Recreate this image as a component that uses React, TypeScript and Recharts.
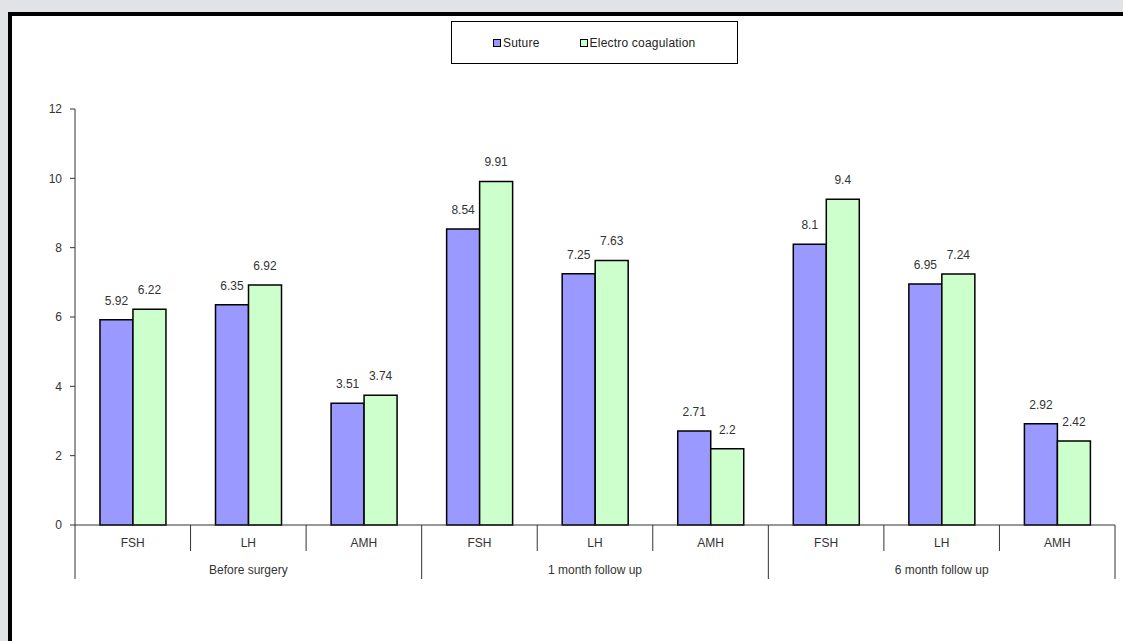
import React from "react";
import { BarChart, Bar, XAxis, YAxis, Legend, LabelList } from "recharts";

const hormones = ["FSH", "LH", "AMH", "FSH", "LH", "AMH", "FSH", "LH", "AMH"];
const groups = ["Before surgery", "1 month follow up", "6 month follow up"];
const suture = [5.92, 6.35, 3.51, 8.54, 7.25, 2.71, 8.1, 6.95, 2.92];
const electro = [6.22, 6.92, 3.74, 9.91, 7.63, 2.2, 9.4, 7.24, 2.42];
const seriesNames = ["Suture", "Electro coagulation"];
const yTicks = [0, 2, 4, 6, 8, 10, 12];

const data = hormones.map((h, i) => ({
  id: i,
  hormone: h,
  suture: suture[i],
  electro: electro[i],
}));

const FONT = "'Liberation Sans', Arial, sans-serif";
const INK = "#333";

function CategoryTick(props: any) {
  const { x, y, payload, index } = props;
  const half = payload?.offset ?? 57.8;
  const left = x - half;
  const isGroupStart = index % 3 === 0;
  const isLast = index === hormones.length - 1;
  return (
    <g>
      <line x1={left} x2={left} y1={y} y2={y + (isGroupStart ? 54 : 26)} stroke={INK} strokeWidth={1} />
      {isLast && <line x1={x + half} x2={x + half} y1={y} y2={y + 54} stroke={INK} strokeWidth={1} />}
      <text x={x} y={y + 22} textAnchor="middle" fontSize={12} fill={INK} fontFamily={FONT}>
        {hormones[index]}
      </text>
      {index % 3 === 1 && (
        <text x={x} y={y + 49} textAnchor="middle" fontSize={12} fill={INK} fontFamily={FONT}>
          {groups[Math.floor(index / 3)]}
        </text>
      )}
    </g>
  );
}

function LegendBox({ payload }: any) {
  const items = [...(payload || [])].sort(
    (a: any, b: any) => seriesNames.indexOf(a.value) - seriesNames.indexOf(b.value)
  );
  return (
    <div
      style={{
        border: "1px solid #000",
        height: 43,
        display: "flex",
        alignItems: "center",
        justifyContent: "flex-start",
        paddingLeft: 41,
        gap: 40,
        background: "#fff",
        fontFamily: FONT,
        fontSize: 12,
        letterSpacing: 0.2,
        color: "#222",
        boxSizing: "border-box",
      }}
    >
      {items.map((p: any) => (
        <span key={p.value} style={{ display: "flex", alignItems: "center" }}>
          <span
            style={{
              display: "inline-block",
              width: 6,
              height: 6,
              border: "1px solid #000",
              background: p.color,
              marginRight: 2,
            }}
          />
          {p.value}
        </span>
      ))}
    </div>
  );
}

export default function App() {
  return (
    <div
      style={{
        position: "absolute",
        left: 0,
        top: 0,
        width: 1123,
        height: 641,
        background: "#e1e4e6",
        overflow: "hidden",
      }}
    >
      <div
        style={{
          position: "absolute",
          left: 8,
          top: 12,
          width: 1130,
          height: 650,
          border: "4px solid #000",
          background: "#fff",
        }}
      />
      <div style={{ position: "absolute", left: 0, top: 0 }}>
        <BarChart
          width={1123}
          height={641}
          data={data}
          margin={{ top: 109, right: 8, bottom: 56, left: 25 }}
          barCategoryGap="21.6%"
          barGap={0}
        >
          <XAxis
            dataKey="id"
            height={60}
            axisLine={{ stroke: INK, strokeWidth: 1 }}
            tickLine={false}
            tickSize={0}
            tickMargin={0}
            interval={0}
            tick={<CategoryTick />}
          />
          <YAxis
            width={50}
            domain={[0, 12]}
            ticks={yTicks}
            axisLine={{ stroke: INK, strokeWidth: 1 }}
            tickLine={{ stroke: INK }}
            tickSize={5}
            tickMargin={8}
            tick={{ fontSize: 12, fill: INK, fontFamily: FONT }}
          />
          <Legend
            verticalAlign="middle"
            align="center"
            content={<LegendBox />}
            wrapperStyle={{ position: "absolute", top: 21, left: 451, width: 287 }}
          />
          <Bar dataKey="suture" name="Suture" fill="#9999ff" stroke="#000" strokeWidth={1.5} isAnimationActive={false}>
            <LabelList dataKey="suture" position="top" offset={15} fontSize={12} fill={INK} fontFamily={FONT} />
          </Bar>
          <Bar dataKey="electro" name="Electro coagulation" fill="#ccffcc" stroke="#000" strokeWidth={1.5} isAnimationActive={false}>
            <LabelList dataKey="electro" position="top" offset={15} fontSize={12} fill={INK} fontFamily={FONT} />
          </Bar>
        </BarChart>
      </div>
    </div>
  );
}
